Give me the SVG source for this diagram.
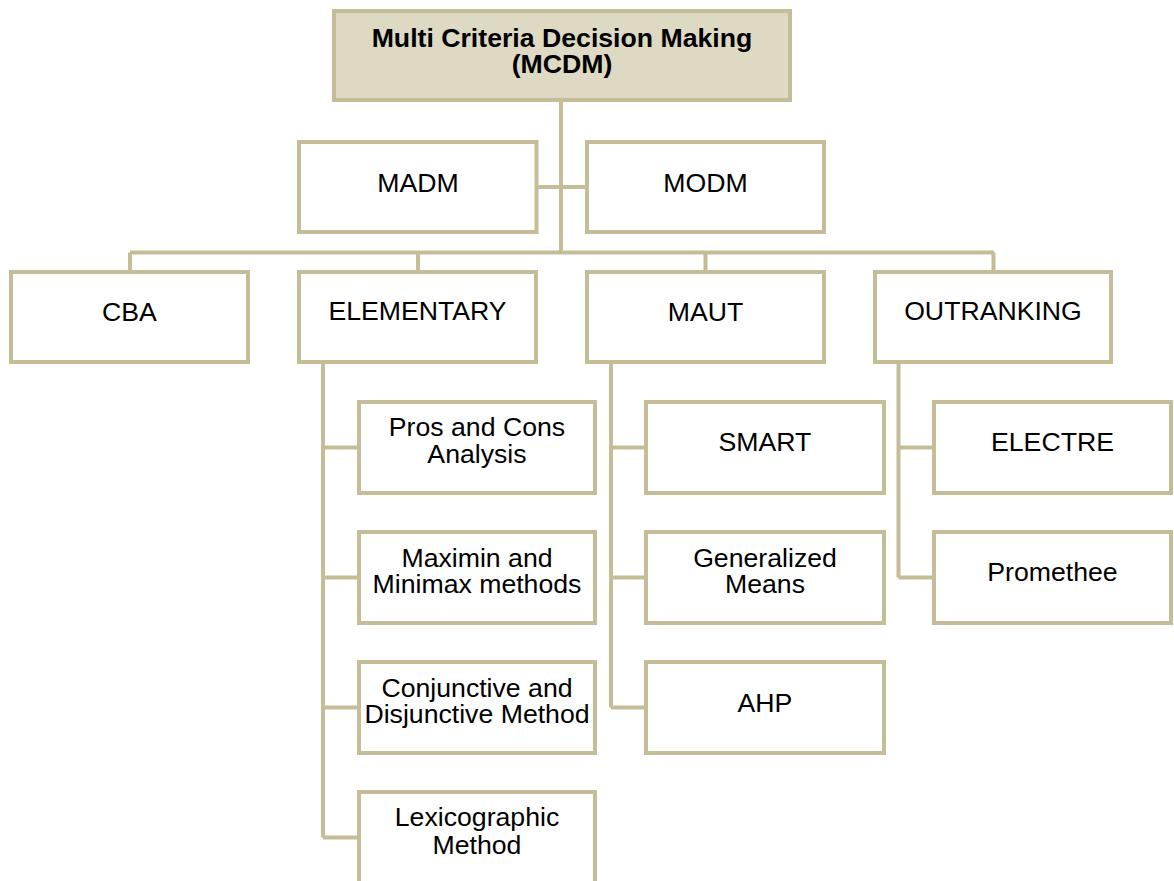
<svg xmlns="http://www.w3.org/2000/svg" width="1174" height="881" viewBox="0 0 1174 881">
<style>
.box{fill:#ffffff;stroke:#c4bd97;stroke-width:4}
.title{fill:#ddd9c3;stroke:#c4bd97;stroke-width:4}
.conn{fill:none;stroke:#c4bd97;stroke-width:4}
text{font-family:"Liberation Sans",Arial,sans-serif;font-size:26.67px;fill:#000;text-anchor:middle}
.b{font-weight:bold}
</style>
<rect width="1174" height="881" fill="#ffffff"/>
<g id="connectors">
<path class="conn" d="M561 100V252.5M537 187H587M130 252.5H994M130 252.5V272M418 252.5V272M705.5 252.5V272M993.5 252.5V272"/>
<path class="conn" d="M323 362V837.5M323 447.5H359M323 577.5H359M323 707.5H359M323 837.5H359"/>
<path class="conn" d="M611 362V707.5M611 447.5H646M611 577.5H646M611 707.5H646"/>
<path class="conn" d="M898.5 362V577.5M898.5 447.5H934M898.5 577.5H934"/>
</g>
<g id="mcdm"><rect class="title" x="334" y="11" width="456" height="89"/><text class="b" x="562" y="47">Multi Criteria Decision Making</text><text class="b" x="562" y="73">(MCDM)</text></g>
<g id="madm"><rect class="box" x="299" y="142" width="237.5" height="90"/><text x="418" y="191.5">MADM</text></g>
<g id="modm"><rect class="box" x="587" y="142" width="237" height="90"/><text x="705.5" y="191.5">MODM</text></g>
<g id="cba"><rect class="box" x="11" y="272" width="237" height="90"/><text x="129.5" y="321">CBA</text></g>
<g id="elementary"><rect class="box" x="299" y="272" width="237" height="90"/><text x="417.5" y="320">ELEMENTARY</text></g>
<g id="maut"><rect class="box" x="587" y="272" width="237" height="90"/><text x="705.5" y="321">MAUT</text></g>
<g id="outranking"><rect class="box" x="875" y="272" width="236" height="90"/><text x="993" y="320">OUTRANKING</text></g>
<g id="pros"><rect class="box" x="359" y="402" width="236" height="91"/><text x="477" y="436">Pros and Cons</text><text x="477" y="463">Analysis</text></g>
<g id="maximin"><rect class="box" x="359" y="532" width="236" height="91"/><text x="477" y="567">Maximin and</text><text x="477" y="593">Minimax methods</text></g>
<g id="conjunctive"><rect class="box" x="359" y="662" width="236" height="91"/><text x="477" y="697">Conjunctive and</text><text x="477" y="723">Disjunctive Method</text></g>
<g id="lexicographic"><rect class="box" x="359" y="792" width="236" height="91"/><text x="477" y="826">Lexicographic</text><text x="477" y="854">Method</text></g>
<g id="smart"><rect class="box" x="646" y="402" width="238" height="91"/><text x="765" y="451">SMART</text></g>
<g id="generalized"><rect class="box" x="646" y="532" width="238" height="91"/><text x="765" y="567">Generalized</text><text x="765" y="593">Means</text></g>
<g id="ahp"><rect class="box" x="646" y="662" width="238" height="91"/><text x="765" y="711.5">AHP</text></g>
<g id="electre"><rect class="box" x="934" y="402" width="237" height="91"/><text x="1052.5" y="451">ELECTRE</text></g>
<g id="promethee"><rect class="box" x="934" y="532" width="237" height="91"/><text x="1052.5" y="581">Promethee</text></g>
</svg>
